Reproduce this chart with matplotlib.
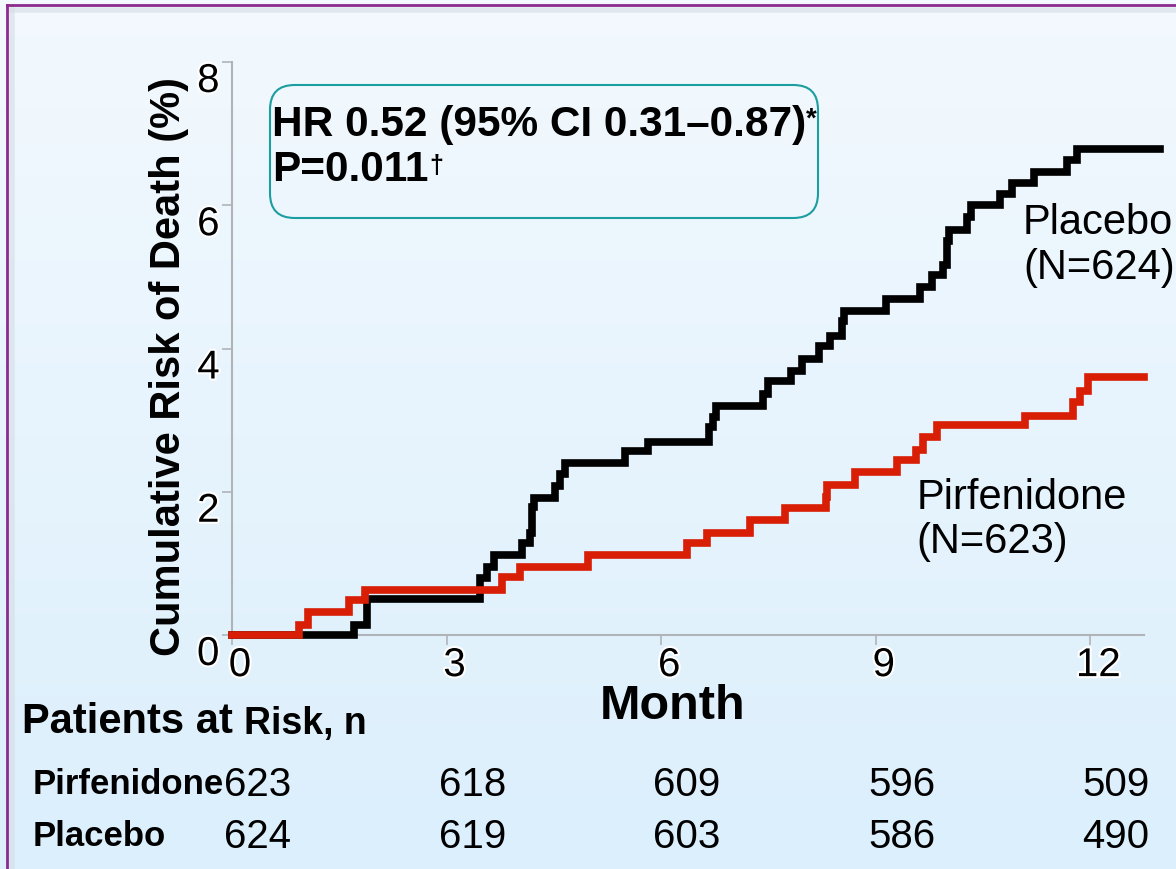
import matplotlib
matplotlib.use("Agg")
import matplotlib.pyplot as plt
import matplotlib.patheffects as pe
import numpy as np
from matplotlib.lines import Line2D
from matplotlib.patches import FancyBboxPatch
from matplotlib.transforms import ScaledTranslation, blended_transform_factory

plt.rcParams["font.family"] = ["Liberation Sans", "DejaVu Sans"]

# Kaplan-Meier step data (month, cumulative risk of death in %)
placebo_months = [0, 1.70, 1.89, 3.47, 3.56, 3.66, 4.05, 4.17, 4.20, 4.22, 4.52, 4.59,
                  4.66, 5.50, 5.82, 6.67, 6.72, 6.76, 7.42, 7.50, 7.81, 7.97, 8.20,
                  8.36, 8.53, 8.56, 9.14, 9.62, 9.78, 9.94, 10.00, 10.02, 10.27, 10.33,
                  10.73, 10.91, 11.21, 11.68, 11.82, 12.97]
placebo_risk = [0, 0.14, 0.50, 0.79, 0.95, 1.12, 1.29, 1.43, 1.79, 1.91, 2.08, 2.25,
                2.40, 2.57, 2.70, 2.90, 3.05, 3.20, 3.37, 3.55, 3.69, 3.86, 4.04,
                4.18, 4.39, 4.53, 4.69, 4.86, 5.02, 5.16, 5.50, 5.65, 5.84, 6.01,
                6.16, 6.31, 6.47, 6.63, 6.79, 6.79]

pirf_months = [0, 0.93, 1.06, 1.64, 1.86, 3.77, 4.03, 4.98, 6.36, 6.64, 7.24, 7.73,
               8.30, 8.32, 8.71, 9.30, 9.56, 9.66, 9.86, 11.09, 11.76, 11.86, 11.97, 12.75]
pirf_risk = [0, 0.14, 0.32, 0.49, 0.63, 0.81, 0.95, 1.12, 1.29, 1.43, 1.61, 1.78,
             1.92, 2.09, 2.27, 2.44, 2.58, 2.76, 2.93, 3.06, 3.25, 3.41, 3.60, 3.60]

risk_months = [0, 3, 6, 9, 12]
pirf_at_risk = [623, 618, 609, 596, 509]
placebo_at_risk = [624, 619, 603, 586, 490]

W, H = 1176, 870
fig = plt.figure(figsize=(W / 100, H / 100), dpi=100)

# slide background: pale blue vertical gradient
bg = fig.add_axes([0, 0, 1, 1], zorder=-10)
grad = np.linspace(0, 1, 256)[:, None]
top_c = np.array([243, 249, 254]) / 255
bot_c = np.array([219, 239, 252]) / 255
img = top_c[None, None, :] * (1 - grad[:, :, None]) + bot_c[None, None, :] * grad[:, :, None]
bg.imshow(img, aspect="auto", extent=[0, 1, 0, 1], origin="upper")
bg.set_axis_off()

# slide frame
fig.add_artist(Line2D([7 / W, 1], [1 - 6 / H, 1 - 6 / H], transform=fig.transFigure,
                      color="#8c2a8e", lw=2))
fig.add_artist(Line2D([7 / W, 7 / W], [0, 1 - 6 / H], transform=fig.transFigure,
                      color="#8c2a8e", lw=2))
fig.add_artist(Line2D([12 / W, 1], [1 - 11 / H, 1 - 11 / H], transform=fig.transFigure,
                      color="#d4dde4", lw=4, alpha=0.6))
fig.add_artist(Line2D([12 / W, 12 / W], [0, 1 - 11 / H], transform=fig.transFigure,
                      color="#d4dde4", lw=4, alpha=0.6))

ax = fig.add_axes([232 / W, 234 / H, 912 / W, 573 / H])
ax.set_facecolor("none")

ax.step(placebo_months, placebo_risk, where="post", color="black", lw=5.5,
        solid_joinstyle="miter", clip_on=False, zorder=3)
ax.step(pirf_months, pirf_risk, where="post", color="#d81e05", lw=5.5,
        solid_joinstyle="miter", clip_on=False, zorder=4)

ax.set_xlim(0, 12.75)
ax.set_ylim(0, 8)
ax.set_xticks(risk_months)
ax.set_yticks([0, 2, 4, 6, 8])
for side in ("top", "right"):
    ax.spines[side].set_visible(False)
for side in ("left", "bottom"):
    ax.spines[side].set_color("#b0b4b8")
    ax.spines[side].set_linewidth(1.5)
ax.tick_params(axis="both", colors="#b0b4b8", labelcolor="black", labelsize=29,
               length=7, width=1.2)
ax.tick_params(axis="y", pad=2)
ax.tick_params(axis="x", pad=1)

halo = [pe.withStroke(linewidth=3, foreground="white")]
for t in ax.yaxis.get_major_ticks():
    t.label1.set_transform(t.label1.get_transform()
                           + ScaledTranslation(0, -0.15, fig.dpi_scale_trans))
    t.label1.set_path_effects(halo)
for t in ax.xaxis.get_major_ticks():
    t.label1.set_transform(t.label1.get_transform()
                           + ScaledTranslation(0.08, 0, fig.dpi_scale_trans))
    t.label1.set_path_effects(halo)

ax.set_ylabel("Cumulative Risk of Death (%)", fontsize=30, fontweight="bold")
ax.yaxis.set_label_coords(-0.047, 0.47)
ax.set_xlabel("Month", fontsize=35, fontweight="bold", va="center")
ax.xaxis.set_label_coords(0.4836, -0.123)

# curve labels
ax.text(11.06, 5.45, "Placebo\n(N=624)", fontsize=30, va="center", ha="left",
        linespacing=1.15, clip_on=False)
ax.text(9.57, 1.62, "Pirfenidone\n(N=623)", fontsize=30, va="center", ha="left",
        linespacing=1.15, clip_on=False)

# hazard ratio box
fig.patches.append(FancyBboxPatch((270 / W, 1 - 219 / H), 548 / W, 133 / H,
                                  boxstyle="round,pad=0,rounding_size=0.021",
                                  mutation_aspect=W / H, transform=fig.transFigure,
                                  facecolor="none", edgecolor="#1a9ea0", lw=1.5))
hr = fig.text(272 / W, 1 - 125 / H, "HR 0.52 (95% CI 0.31\u20130.87)", fontsize=30.5,
              fontweight="bold", va="center", ha="left")
pv = fig.text(272 / W, 1 - 170 / H, "P=0.011", fontsize=30.5, fontweight="bold",
              va="center", ha="left")
ax.annotate("*", xy=(1, 1), xycoords=hr, xytext=(0, -1), textcoords="offset points",
            fontsize=20, fontweight="bold", ha="left", va="top")
ax.annotate("\u2020", xy=(1, 1), xycoords=pv, xytext=(1, -3), textcoords="offset points",
            fontsize=18, fontweight="bold", ha="left", va="top")

# patients at risk table
pat = fig.text(22 / W, 1 - 733 / H, "Patients at ", fontsize=30, fontweight="bold",
               ha="left", va="baseline")
ax.annotate("Risk, n", xy=(1, 0), xycoords=pat, xytext=(0, 0), textcoords="offset points",
            fontsize=27, fontweight="bold", ha="left", va="bottom")
fig.text(33 / W, 1 - 785 / H, "Pirfenidone", fontsize=25, fontweight="bold",
         ha="left", va="center")
fig.text(33 / W, 1 - 837 / H, "Placebo", fontsize=25, fontweight="bold",
         ha="left", va="center")

row_tf = blended_transform_factory(ax.transData, fig.transFigure)
for m, a, b in zip(risk_months, pirf_at_risk, placebo_at_risk):
    ax.text(m + 0.36, 1 - 785 / H, str(a), fontsize=29, ha="center", va="center",
            transform=row_tf, clip_on=False)
    ax.text(m + 0.36, 1 - 837 / H, str(b), fontsize=29, ha="center", va="center",
            transform=row_tf, clip_on=False)

fig.savefig("out.png", dpi=100)
